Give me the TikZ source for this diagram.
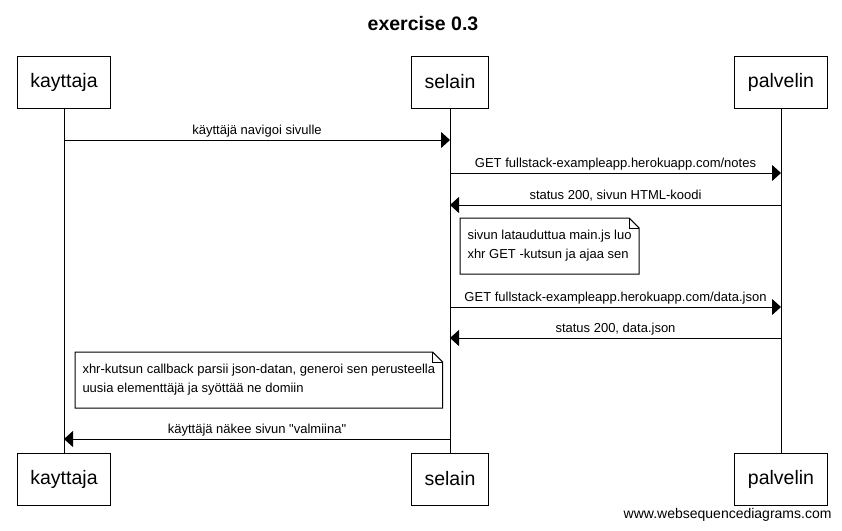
\documentclass[tikz,border=0pt]{standalone}
\usepackage{fontspec}
\setmainfont{Liberation Sans}
\usetikzlibrary{arrows.meta}
\tikzset{
    actor/.style={draw, minimum height=52pt, inner xsep=13pt, font=\fontsize{19.5}{23}\selectfont},
    msg/.style={-{Triangle[length=9pt,width=16pt]}},
    msglabel/.style={midway, anchor=base, yshift=5.5pt, inner sep=0pt, font=\fontsize{13}{15}\selectfont},
    notetext/.style={anchor=north west, inner xsep=7pt, inner ysep=0pt, minimum height=55pt, align=left, font=\fontsize{13}{19}\selectfont},
}
\begin{document}
\begin{tikzpicture}[x=1pt, y=-1pt, line width=1pt]
    \useasboundingbox (0,0) rectangle (842,530);
    \node[font=\bfseries\fontsize{19.5}{24}\selectfont] (title) at (423,24) {exercise 0.3};
    %draw actors and lifelines
    \foreach \n/\x/\name in {k/64/kayttaja, s/450/selain, p/781/palvelin}
        {%
            \node[actor] (\n top) at (\x,82) {\name};
            \node[actor] (\n bot) at (\x,479) {\name};
            \draw (\n top) -- (\n bot);
        }
    %draw messages
    \foreach \y/\a/\b/\txt [count=\i] in {140/k/s/{käyttäjä navigoi sivulle},
        173/s/p/{GET fullstack-exampleapp.herokuapp.com/notes},
        205/p/s/{status 200, sivun HTML-koodi},
        307/s/p/{GET fullstack-exampleapp.herokuapp.com/data.json},
        338/p/s/{status 200, data.json},
        439/s/k/{käyttäjä näkee sivun \textquotedbl valmiina\textquotedbl}}
        {%
            \coordinate (m\i) at (0,\y);
            \draw[msg] (\a top |- m\i) -- (\b top |- m\i) node[msglabel] {\txt};
        }
    %draw notes
    \node[notetext] (n1) at (460,218) {sivun latauduttua main.js luo\\xhr GET -kutsun ja ajaa sen};
    \node[notetext] (n2) at (75,352) {xhr-kutsun callback parsii json-datan, generoi sen perusteella\\uusia elementtäjä ja syöttää ne domiin};
    \foreach \n in {n1, n2}
        {%
            \draw (\n.north west) -- ([xshift=-10pt]\n.north east) -- ([yshift=-10pt]\n.north east) -- (\n.south east) -- (\n.south west) -- cycle;
            \draw ([xshift=-10pt]\n.north east) -- ([xshift=-10pt,yshift=-10pt]\n.north east) -- ([yshift=-10pt]\n.north east);
        }
    \node[anchor=base east, inner sep=0pt, font=\fontsize{14}{16}\selectfont] (credit) at (832,518) {www.websequencediagrams.com};
\end{tikzpicture}
\end{document}
